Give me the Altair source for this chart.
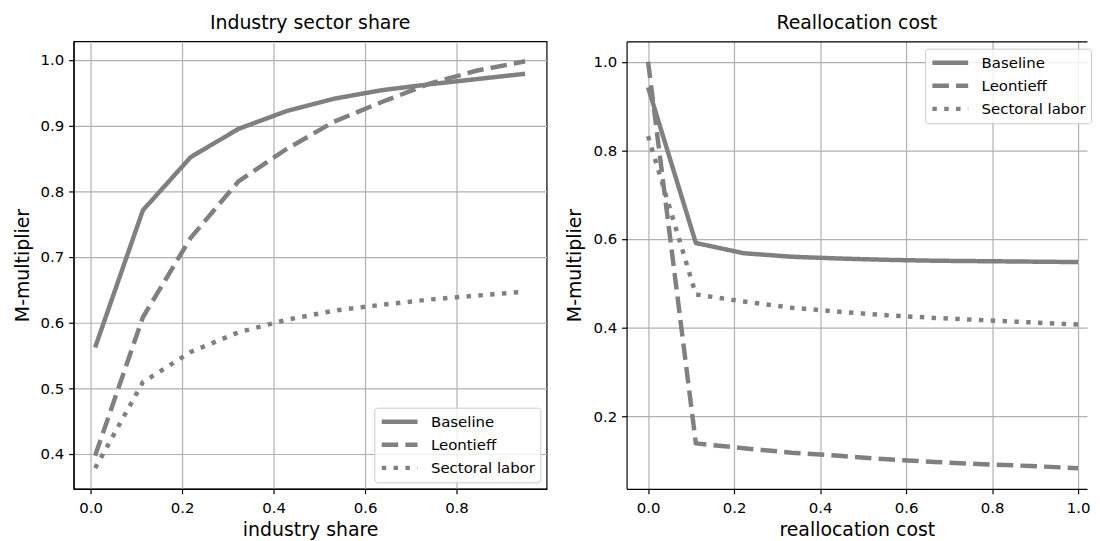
import altair as alt
import pandas as pd

FONT = "DejaVu Sans"
GRAY = "#808080"

series_names = ["Baseline", "Leontieff", "Sectoral labor"]

# Left panel: industry share
industry_share = [0.01, 0.1144, 0.2189, 0.3233, 0.4278, 0.5322, 0.6367, 0.7411, 0.8456, 0.95]
share_baseline = [0.562, 0.771, 0.852, 0.895, 0.922, 0.941, 0.954, 0.963, 0.971, 0.979]
share_leontieff = [0.397, 0.608, 0.729, 0.815, 0.864, 0.906, 0.936, 0.964, 0.984, 0.998]
share_sectoral = [0.378, 0.509, 0.555, 0.585, 0.604, 0.618, 0.627, 0.635, 0.641, 0.647]

# Right panel: reallocation cost
realloc_cost = [0.0, 0.1111, 0.2222, 0.3333, 0.4444, 0.5556, 0.6667, 0.7778, 0.8889, 1.0]
cost_baseline = [0.942, 0.591, 0.568, 0.560, 0.556, 0.553, 0.551, 0.550, 0.549, 0.548]
cost_leontieff = [1.000, 0.139, 0.128, 0.118, 0.111, 0.103, 0.097, 0.092, 0.088, 0.083]
cost_sectoral = [0.832, 0.475, 0.459, 0.445, 0.436, 0.428, 0.422, 0.417, 0.412, 0.407]

dash_range = [[1, 0], [16.6, 7.2], [4.5, 7.4]]

left_xticks = [0.0, 0.2, 0.4, 0.6, 0.8]
left_yticks = [0.4, 0.5, 0.6, 0.7, 0.8, 0.9, 1.0]
right_xticks = [0.0, 0.2, 0.4, 0.6, 0.8, 1.0]
right_yticks = [0.2, 0.4, 0.6, 0.8, 1.0]


def long_df(xs, ys_list):
    rows = []
    for name, ys in zip(series_names, ys_list):
        for i, (x, y) in enumerate(zip(xs, ys)):
            rows.append({"x": x, "y": y, "series": name, "order": i})
    return pd.DataFrame(rows)


left_df = long_df(industry_share, [share_baseline, share_leontieff, share_sectoral])
right_df = long_df(realloc_cost, [cost_baseline, cost_leontieff, cost_sectoral])

H = 450


def y_enc(yscale, yticks):
    return alt.Y("y:Q", title="M-multiplier", scale=yscale,
                 axis=alt.Axis(values=yticks, format=".1f"))


def lines(df, xtitle, xscale, yscale, xticks, yticks, legx, legy):
    legend = alt.Legend(
        title=None,
        orient="none",
        legendX=legx,
        legendY=legy,
        symbolType="stroke",
        symbolStrokeColor=GRAY,
        symbolStrokeWidth=4.5,
        symbolSize=1296,
        clipHeight=18.3,
        rowPadding=4.2,
        labelFontSize=15,
        labelFont=FONT,
        labelColor="black",
        labelOffset=11,
        padding=5,
        fillColor="rgba(255,255,255,0.8)",
        strokeColor="#cccccc",
        cornerRadius=3,
    )
    return (
        alt.Chart(df)
        .mark_line(color=GRAY, strokeWidth=4.5, strokeCap="butt", strokeJoin="round")
        .encode(
            x=alt.X("x:Q", title=xtitle, scale=xscale,
                    axis=alt.Axis(values=xticks, format=".1f")),
            y=y_enc(yscale, yticks),
            strokeDash=alt.StrokeDash(
                "series:N",
                scale=alt.Scale(domain=series_names, range=dash_range),
                legend=legend,
            ),
            order="order:Q",
        )
    )


# Left panel
lx = alt.Scale(domain=[-0.037, 0.997], nice=False, zero=False)
ly = alt.Scale(domain=[0.3465, 1.0285], nice=False, zero=False)
left = lines(
    left_df, "industry share", lx, ly, left_xticks, left_yticks, 302.3, 368.4,
).properties(width=475.6, height=H, title="Industry sector share")

# Right panel (its right border falls outside the picture in the reference)
rx = alt.Scale(domain=[-0.05, 1.0208], nice=False, zero=False)
ry = alt.Scale(domain=[0.0365, 1.046], nice=False, zero=False)
right_lines = lines(
    right_df, "reallocation cost", rx, ry, right_xticks, right_yticks, 300, 7.4,
)
right_top = (
    alt.Chart(right_df)
    .mark_line(opacity=0)
    .encode(
        x=alt.X("x:Q", scale=rx,
                axis=alt.Axis(orient="top", labels=False, ticks=False, grid=False,
                              domain=True, title=None)),
        y=y_enc(ry, right_yticks),
        detail="series:N",
    )
)
right = (
    alt.layer(right_lines, right_top)
    .resolve_axis(x="independent")
    .properties(width=463, height=H, title="Reallocation cost",
                view=alt.ViewBackground(strokeOpacity=0))
)

chart = (
    alt.hconcat(left, right, spacing=18)
    .resolve_scale(strokeDash="independent", x="independent", y="independent")
    .resolve_legend(strokeDash="independent")
    .properties(padding={"left": 4, "top": 4, "right": 0, "bottom": 0})
    .configure_view(stroke="black", strokeWidth=1.2)
    .configure_axis(
        grid=True,
        gridColor="#b0b0b0",
        gridWidth=1.2,
        domainColor="black",
        domainWidth=1.2,
        tickColor="black",
        tickWidth=1.2,
        tickSize=5,
        labelFont=FONT,
        labelFontSize=15,
        labelColor="black",
        titleFont=FONT,
        titleFontSize=19,
        titleFontWeight="normal",
        titleColor="black",
    )
    .configure_axisX(labelPadding=7, titlePadding=5)
    .configure_axisY(labelPadding=5, titlePadding=8)
    .configure_title(
        font=FONT, fontSize=19, fontWeight="normal", color="black", anchor="middle", offset=8
    )
)

chart.save("out.html", embed_options={"renderer": "svg", "actions": False})
